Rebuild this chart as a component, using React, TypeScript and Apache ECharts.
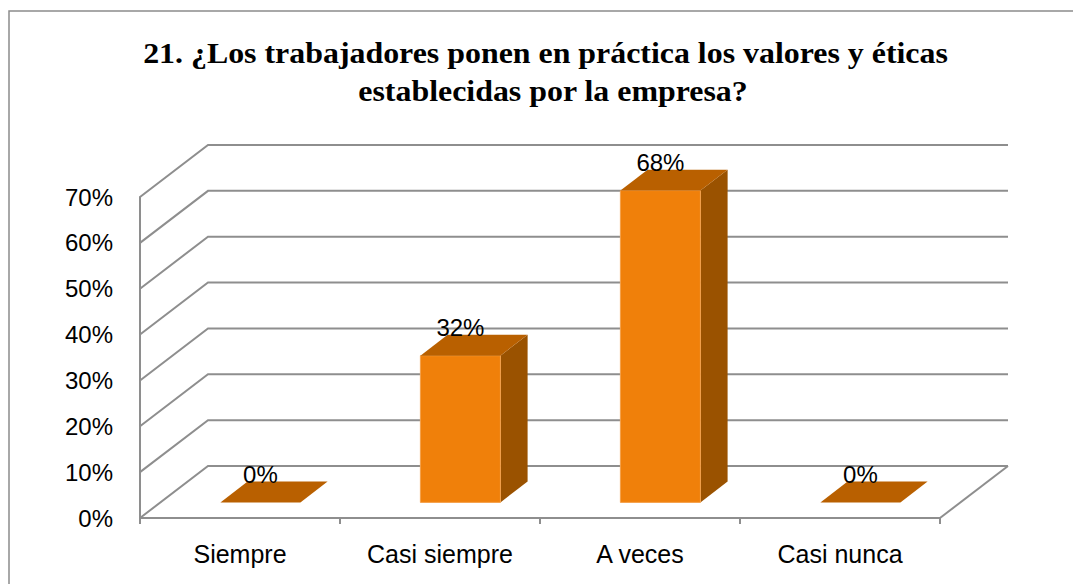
import React, { useEffect, useRef } from 'react';
import * as echarts from 'echarts';

const categories = ['Siempre', 'Casi siempre', 'A veces', 'Casi nunca'];
const values = [0, 32, 68, 0];
const yTicks = [0, 10, 20, 30, 40, 50, 60, 70];
const titleLines = [
  '21. ¿Los trabajadores ponen en práctica los valores y éticas',
  'establecidas por la empresa?',
];

const DX = 68;
const DY = 52;
const BAR_FRONT = 0.3;
const BAR_DEPTH = 0.4;
const BAR_W = 0.4;
const GRID_COLOR = '#8e8e8e';
const PCT_FONT = 'Liberation Sans';
const PCT_SIZE = 24;
const CAT_FONT = 'Liberation Sans';
const TITLE_FAMILY = 'Liberation Serif';
const TITLE_SIZE = 29;

export default function App() {
  const ref = useRef<HTMLDivElement>(null);
  useEffect(() => {
    if (!ref.current) return;
    const chart = echarts.init(ref.current, undefined, { renderer: 'svg' });

    let scaleX = 1;
    try {
      const ctx = document.createElement('canvas').getContext('2d');
      if (ctx) {
        ctx.font = 'bold ' + TITLE_SIZE + 'px "' + TITLE_FAMILY + '"';
        const w = ctx.measureText(titleLines[0]).width;
        if (w > 0) scaleX = Math.min(1.2, Math.max(0.75, 805 / w));
      }
    } catch (e) {}

    const lineStyle = { stroke: GRID_COLOR, lineWidth: 2, fill: null as any };
    const titleStyle = (text: string) => ({
      text,
      fontSize: TITLE_SIZE,
      fontWeight: 'bold',
      fontFamily: TITLE_FAMILY,
      fill: '#000',
      align: 'center',
      verticalAlign: 'middle',
    });

    chart.setOption({
      animation: false,
      backgroundColor: '#ffffff',
      graphic: [
        {
          type: 'rect',
          z: -10,
          shape: { x: 9, y: 11, width: 1200, height: 700 },
          style: { fill: 'none', stroke: '#8c8c8c', lineWidth: 1.5 },
        },
        { type: 'text', x: 545.5, y: 53.5, scaleX, style: titleStyle(titleLines[0]) },
        { type: 'text', x: 553, y: 91, scaleX, style: titleStyle(titleLines[1]) },
      ],
      grid: { left: 140, right: 133, top: 197, bottom: 66, containLabel: false },
      xAxis: {
        type: 'category',
        data: categories,
        axisLine: { show: true, lineStyle: { color: GRID_COLOR, width: 2 } },
        axisTick: { show: true, length: 6, lineStyle: { color: GRID_COLOR, width: 2 } },
        axisLabel: { interval: 0, fontSize: 25, margin: 23, color: '#000', fontFamily: CAT_FONT },
        splitLine: { show: false },
      },
      yAxis: {
        type: 'value',
        min: 0,
        max: 70,
        interval: 10,
        axisLine: { show: true, lineStyle: { color: GRID_COLOR, width: 2 } },
        axisTick: { show: false },
        axisLabel: { formatter: '{value}%', fontSize: PCT_SIZE, margin: 27, color: '#000', fontFamily: PCT_FONT },
        splitLine: { show: false },
      },
      series: [
        {
          type: 'custom',
          z: 1,
          silent: true,
          data: yTicks.map((v) => [0, v]),
          renderItem: (params: any, api: any) => {
            const v = api.value(1);
            const band = api.size([1, 0])[0];
            const p0 = api.coord([0, v]);
            const p3 = api.coord([categories.length - 1, v]);
            const xl = p0[0] - band / 2;
            const xr = p3[0] + band / 2;
            const y = p0[1];
            const children: any[] = [
              {
                type: 'polyline',
                shape: { points: [[xl, y], [xl + DX, y - DY], [xr + DX, y - DY]] },
                style: lineStyle,
              },
            ];
            if (v === 0) {
              children.push({
                type: 'line',
                shape: { x1: xr, y1: y, x2: xr + DX, y2: y - DY },
                style: lineStyle,
              });
            }
            return { type: 'group', children };
          },
        },
        {
          type: 'custom',
          z: 3,
          data: values.map((v, i) => [i, v]),
          renderItem: (params: any, api: any) => {
            const idx = api.value(0);
            const v = api.value(1);
            const band = api.size([1, 0])[0];
            const c = api.coord([idx, v]);
            const b = api.coord([idx, 0]);
            const w = band * BAR_W;
            const fx = DX * BAR_FRONT;
            const fy = DY * BAR_FRONT;
            const dx = DX * BAR_DEPTH;
            const dy = DY * BAR_DEPTH;
            const xl = c[0] - w / 2 + fx;
            const xr = c[0] + w / 2 + fx;
            const yt = c[1] - fy;
            const yb = b[1] - fy;
            const children: any[] = [];
            if (yb - yt > 0.5) {
              children.push({
                type: 'polygon',
                shape: { points: [[xr, yt], [xr + dx, yt - dy], [xr + dx, yb - dy], [xr, yb]] },
                style: { fill: '#9a5200' },
              });
              children.push({
                type: 'rect',
                shape: { x: xl, y: yt, width: xr - xl, height: yb - yt },
                style: { fill: '#f0800a', stroke: '#f4a04a', lineWidth: 1 },
              });
            }
            children.push({
              type: 'polygon',
              shape: { points: [[xl, yt], [xr, yt], [xr + dx, yt - dy], [xl + dx, yt - dy]] },
              style: { fill: '#b96000' },
            });
            children.push({
              type: 'text',
              style: {
                text: v + '%',
                x: c[0] + fx,
                y: yt - 28,
                align: 'center',
                verticalAlign: 'middle',
                fontSize: PCT_SIZE,
                fontFamily: PCT_FONT,
                fill: '#000',
              },
            });
            return { type: 'group', children };
          },
        },
      ],
    });

    return () => chart.dispose();
  }, []);

  return (
    <div
      ref={ref}
      style={{ position: 'fixed', left: 0, top: 0, width: 1073, height: 584, background: '#fff' }}
    />
  );
}
